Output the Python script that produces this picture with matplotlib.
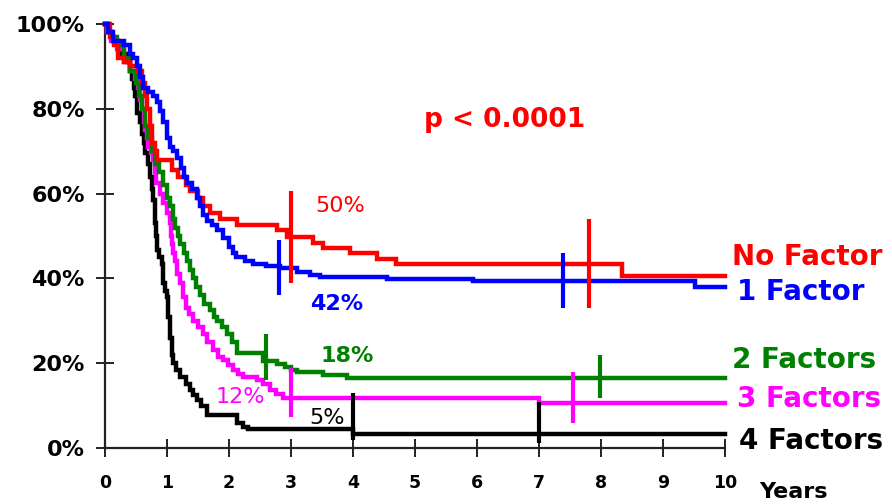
import matplotlib
matplotlib.use("Agg")
import matplotlib.pyplot as plt
import numpy as np

# Kaplan-Meier Kurven (Zeit in Jahren, Überleben in %)
t_none = [0, 0.08, 0.15, 0.21, 0.3, 0.4, 0.53, 0.6, 0.65, 0.68, 0.72, 0.76, 0.8, 0.84,
          1.08, 1.18, 1.3, 1.37, 1.5, 1.58, 1.69, 1.85, 2.13, 2.77, 2.94, 3.35, 3.52,
          3.95, 4.39, 4.7, 8.34, 10]
s_none = [100, 97, 95, 92, 91, 90, 89, 86, 83, 80, 76, 72, 70, 68,
          65.5, 64, 62, 60.5, 59, 57, 55.5, 54, 52.6, 51.5, 49.8, 48.3, 47.2,
          46, 44.6, 43.4, 40.6, 40.6]

t_one = [0, 0.05, 0.13, 0.3, 0.4, 0.45, 0.51, 0.57, 0.62, 0.7, 0.78, 0.84, 0.89, 0.94,
         1.0, 1.05, 1.1, 1.16, 1.22, 1.27, 1.32, 1.4, 1.48, 1.53, 1.58, 1.65, 1.73,
         1.8, 1.9, 2.0, 2.06, 2.12, 2.25, 2.39, 2.6, 2.82, 3.1, 3.3, 3.47, 4.55, 5.94,
         9.52, 10]
s_one = [100, 98, 96, 95, 93, 92, 90, 87.5, 85, 84, 83, 81.5, 79.5, 77,
         73, 71, 70, 68.5, 66, 64, 62.5, 61, 59, 57, 55, 53.5, 52.5,
         51.5, 49.5, 47.5, 46, 45, 44, 43.5, 43, 42.5, 41.5, 40.8, 40.3, 39.8, 39.3,
         38, 38]

t_two = [0, 0.05, 0.1, 0.2, 0.3, 0.4, 0.5, 0.55, 0.6, 0.65, 0.7, 0.75, 0.8, 0.87, 0.94,
         1.0, 1.05, 1.1, 1.13, 1.18, 1.21, 1.27, 1.32, 1.37, 1.42, 1.47, 1.53, 1.6,
         1.69, 1.75, 1.8, 1.88, 1.97, 2.05, 2.13, 2.55, 2.77, 2.9, 3.0, 3.1, 3.52,
         3.9, 10]
s_two = [100, 98, 97, 95, 92, 89, 86, 83, 80, 76, 73, 70, 67, 65, 62,
         59, 57, 54, 52, 50, 48, 46, 44, 42, 40, 38, 36, 34,
         32.5, 31, 30, 28.5, 27, 25, 22.4, 20.5, 19.8, 19, 18.4, 17.9, 17.2,
         16.4, 16.4]

t_three = [0, 0.03, 0.1, 0.19, 0.3, 0.4, 0.48, 0.53, 0.57, 0.6, 0.63, 0.65, 0.68, 0.7,
           0.74, 0.78, 0.8, 0.83, 0.88, 0.94, 1.0, 1.05, 1.07, 1.08, 1.1, 1.13, 1.16,
           1.21, 1.26, 1.3, 1.36, 1.42, 1.5, 1.58, 1.65, 1.74, 1.82, 1.9, 1.98, 2.06,
           2.15, 2.23, 2.45, 2.55, 2.66, 2.75, 2.87, 7.0, 10]
s_three = [100, 98, 96, 94, 91, 89, 87, 85, 82, 80, 77, 75, 73, 71,
           69.5, 68, 65, 62.5, 60, 57.8, 55.5, 53, 50, 48, 46, 44, 41,
           39, 35.6, 33, 31.5, 30, 28.5, 27, 25, 23, 21.5, 20.7, 19.5, 18.4,
           17.5, 16.7, 16, 15, 13.7, 12.8, 11.8, 10.6, 10.6]

t_four = [0, 0.05, 0.1, 0.15, 0.21, 0.27, 0.35, 0.4, 0.43, 0.46, 0.48, 0.52, 0.56, 0.6,
          0.63, 0.65, 0.69, 0.73, 0.75, 0.77, 0.8, 0.82, 0.84, 0.87, 0.92, 0.94, 0.97,
          1.0, 1.02, 1.05, 1.08, 1.1, 1.15, 1.21, 1.3, 1.37, 1.42, 1.48, 1.55, 1.64,
          2.13, 2.23, 2.3, 4.0, 10]
s_four = [100, 98, 97, 96, 94, 93, 91, 89, 87, 85, 83, 79, 77, 74,
          72, 69.5, 67, 64, 61, 58.5, 53, 50, 46.7, 45, 43.5, 39, 37,
          35.5, 31, 26, 22, 20, 18.5, 16.7, 15, 13.7, 12.5, 11.3, 10, 7.8,
          6, 5, 4.5, 3.3, 3.3]

# Zensur-/Median-Markierungen: x, y unten, y oben
m_none = ([3.0, 7.8], [39, 33], [60.5, 54])
m_one = ([2.8, 7.39], [36, 33], [49, 46])
m_two = ([2.6, 7.98], [16, 11.8], [27, 22])
m_three = ([3.0, 7.55], [7.3, 5.9], [18.9, 18])
m_four = ([4.0, 7.0], [1.9, 1.2], [13, 10.8])

names = ["No Factor", "1 Factor", "2 Factors", "3 Factors", "4 Factors"]
colors = ["#ff0000", "#0000ff", "#008000", "#ff00ff", "#000000"]
name_y = [45, 36.8, 20.7, 11.6, 1.6]
name_x = [10.12, 10.2, 10.11, 10.2, 10.22]

pct_labels = ["50%", "42%", "18%", "12%", "5%"]
pct_x = [3.79, 3.73, 3.91, 2.18, 3.58]
pct_y = [57, 34, 21.7, 12, 7.1]
pct_weight = ["normal", "bold", "bold", "normal", "normal"]

x_ticks = list(range(0, 11))
y_ticks = [0, 20, 40, 60, 80, 100]
y_ticklabels = ["0%", "20%", "40%", "60%", "80%", "100%"]

plt.rcParams["font.family"] = "DejaVu Sans"

fig = plt.figure(figsize=(8.92, 5.04), dpi=100)
ax = fig.add_axes([105 / 892, 1 - 448 / 504, 620 / 892, 424 / 504])

curves = [(t_none, s_none), (t_one, s_one), (t_two, s_two),
          (t_three, s_three), (t_four, s_four)]
marks = [m_none, m_one, m_two, m_three, m_four]

# Reihenfolge: schwarz unten, dann magenta, grün, rot, blau
order = [4, 3, 2, 0, 1]
for z, i in enumerate(order):
    t, s = curves[i]
    ax.step(t, s, where="post", color=colors[i], lw=3.2, zorder=3 + z * 0.1,
            solid_joinstyle="miter", clip_on=False)
for i in range(5):
    mx, lo, hi = marks[i]
    ax.vlines(mx, lo, hi, color=colors[i], lw=3.0, zorder=5, clip_on=False)

for i in range(5):
    ax.text(name_x[i], name_y[i], names[i], color=colors[i], fontsize=20,
            fontweight="bold", ha="left", va="center", clip_on=False)
    ax.text(pct_x[i], pct_y[i], pct_labels[i], color=colors[i], fontsize=16,
            fontweight=pct_weight[i], ha="center", va="center")

ax.text(6.44, 77.4, "p < 0.0001", color="#ff0000", fontsize=19,
        fontweight="bold", ha="center", va="center")
ax.text(10.55, -10.3, "Years", fontsize=16, fontweight="bold",
        ha="left", va="center", clip_on=False)

ax.set_xlim(0, 10)
ax.set_ylim(0, 100)
ax.set_xticks(x_ticks)
ax.set_xticklabels([str(v) for v in x_ticks], fontsize=12.5, fontweight="bold")
ax.set_yticks(y_ticks)
ax.set_yticklabels(y_ticklabels, fontsize=16, fontweight="bold")
ax.tick_params(axis="both", direction="inout", length=13, width=1.4,
               color="#222222")
ax.tick_params(axis="x", pad=12)
ax.tick_params(axis="y", pad=8)

for side in ["top", "right"]:
    ax.spines[side].set_visible(False)
for side in ["left", "bottom"]:
    ax.spines[side].set_color("#222222")
    ax.spines[side].set_linewidth(1.6)

fig.savefig("out.png", dpi=100, facecolor="white")
